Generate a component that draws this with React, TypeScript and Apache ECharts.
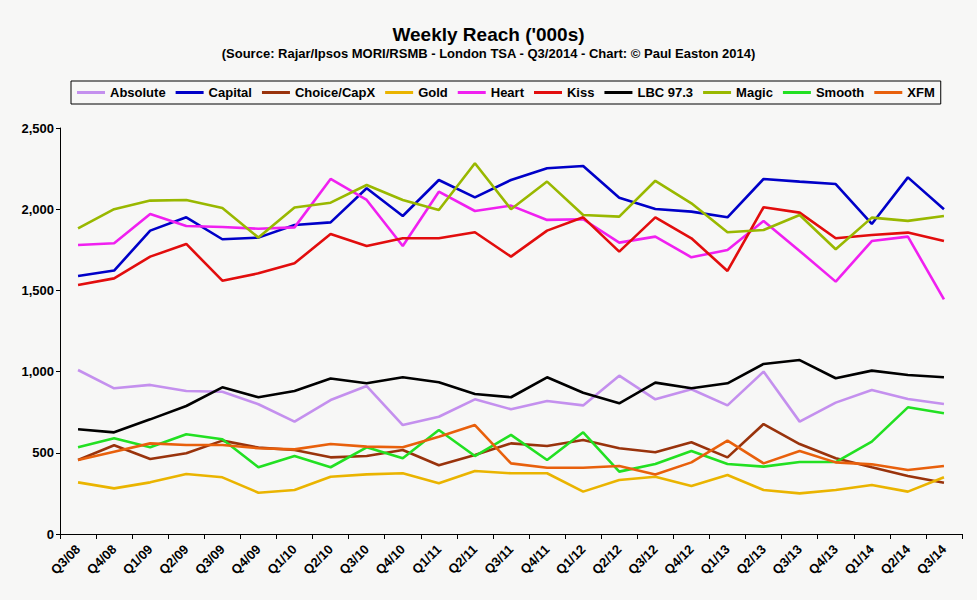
import React, { useEffect, useRef } from 'react';
import * as echarts from 'echarts';

const quarters = [
  'Q3/08', 'Q4/08', 'Q1/09', 'Q2/09', 'Q3/09', 'Q4/09', 'Q1/10', 'Q2/10', 'Q3/10',
  'Q4/10', 'Q1/11', 'Q2/11', 'Q3/11', 'Q4/11', 'Q1/12', 'Q2/12', 'Q3/12', 'Q4/12',
  'Q1/13', 'Q2/13', 'Q3/13', 'Q4/13', 'Q1/14', 'Q2/14', 'Q3/14',
];

const absolute = [1010, 897, 918, 881, 876, 799, 692, 825, 911, 671, 722, 829, 768, 819, 792, 975, 829, 891, 792, 1000, 692, 809, 887, 831, 800];
const capital = [1589, 1622, 1868, 1950, 1815, 1825, 1903, 1919, 2129, 1958, 2180, 2073, 2180, 2252, 2266, 2071, 2001, 1985, 1950, 2186, 2170, 2155, 1909, 2196, 2000];
const choice = [456, 546, 462, 497, 575, 532, 517, 472, 480, 517, 423, 486, 558, 542, 579, 528, 503, 565, 472, 677, 554, 466, 411, 357, 316];
const gold = [318, 281, 318, 369, 349, 254, 271, 353, 367, 374, 312, 388, 374, 374, 261, 333, 353, 296, 363, 271, 250, 271, 302, 261, 349];
const heart = [1780, 1790, 1971, 1897, 1890, 1880, 1888, 2186, 2057, 1773, 2108, 1989, 2022, 1934, 1938, 1794, 1831, 1704, 1749, 1928, 1743, 1554, 1804, 1831, 1445];
const kiss = [1533, 1574, 1708, 1786, 1560, 1605, 1667, 1847, 1773, 1821, 1821, 1858, 1708, 1868, 1950, 1739, 1950, 1821, 1620, 2012, 1979, 1821, 1841, 1856, 1804];
const lbc = [645, 626, 706, 788, 903, 842, 881, 957, 928, 965, 934, 862, 842, 965, 870, 805, 932, 897, 928, 1047, 1071, 959, 1006, 979, 965];
const magic = [1882, 2000, 2053, 2057, 2007, 1825, 2010, 2040, 2149, 2057, 1995, 2283, 2000, 2170, 1964, 1954, 2175, 2036, 1858, 1872, 1964, 1753, 1948, 1928, 1958];
const smooth = [534, 589, 534, 614, 583, 411, 480, 411, 534, 466, 640, 480, 610, 456, 626, 384, 431, 511, 431, 415, 443, 443, 569, 780, 743];
const xfm = [456, 507, 558, 548, 548, 528, 521, 554, 538, 534, 599, 671, 435, 408, 408, 419, 367, 441, 575, 435, 511, 441, 429, 394, 419];

const stations = [
  { name: 'Absolute', data: absolute, color: '#c490ee' },
  { name: 'Capital', data: capital, color: '#0000c8' },
  { name: 'Choice/CapX', data: choice, color: '#99330c' },
  { name: 'Gold', data: gold, color: '#eab400' },
  { name: 'Heart', data: heart, color: '#f020f0' },
  { name: 'Kiss', data: kiss, color: '#e20d0d' },
  { name: 'LBC 97.3', data: lbc, color: '#000000' },
  { name: 'Magic', data: magic, color: '#99b800' },
  { name: 'Smooth', data: smooth, color: '#22e022' },
  { name: 'XFM', data: xfm, color: '#e8600c' },
];

const FONT = "'Liberation Sans', Arial, sans-serif";

export default function App() {
  const chartRef = useRef<HTMLDivElement>(null);

  useEffect(() => {
    if (!chartRef.current) return;
    const chart = echarts.init(chartRef.current, undefined, { renderer: 'svg' });

    chart.setOption({
      animation: false,
      backgroundColor: '#f7f7f6',
      textStyle: { fontFamily: FONT },
      title: {
        text: "Weekly Reach ('000s)",
        subtext: '(Source: Rajar/Ipsos MORI/RSMB - London TSA - Q3/2014 - Chart: © Paul Easton 2014)',
        left: 'center',
        top: 20,
        itemGap: 3,
        textStyle: { fontFamily: FONT, fontSize: 19, fontWeight: 'bold', color: '#000' },
        subtextStyle: { fontFamily: FONT, fontSize: 13, fontWeight: 'bold', color: '#000' },
      },
      legend: {
        left: 71,
        top: 81,
        padding: [5, 6],
        itemGap: 10,
        itemWidth: 28,
        itemHeight: 3,
        icon: 'rect',
        borderColor: '#000',
        borderWidth: 1,
        textStyle: { fontFamily: FONT, fontSize: 13, fontWeight: 'bold', color: '#000' },
        data: stations.map((s) => s.name),
      },
      grid: {
        left: 60,
        right: 15,
        top: 128,
        bottom: 66,
        containLabel: false,
        outerBoundsMode: 'none',
      },
      xAxis: {
        type: 'category',
        boundaryGap: true,
        data: quarters,
        axisLine: { lineStyle: { color: '#000', width: 1 } },
        axisTick: { show: true, length: 5, interval: 0, lineStyle: { color: '#000' } },
        axisLabel: {
          interval: 0,
          rotate: 45,
          margin: 13,
          fontFamily: FONT,
          fontSize: 13,
          fontWeight: 'bold',
          color: '#000',
        },
        splitLine: { show: false },
      },
      yAxis: {
        type: 'value',
        min: 0,
        max: 2500,
        interval: 500,
        axisLine: { show: true, lineStyle: { color: '#000', width: 1 } },
        axisTick: { show: true, length: 4, lineStyle: { color: '#000' } },
        axisLabel: {
          margin: 6,
          fontFamily: FONT,
          fontSize: 13,
          fontWeight: 'bold',
          color: '#000',
          formatter: (v: number) => v.toLocaleString('en-US'),
        },
        splitLine: { show: false },
      },
      series: stations.map((s) => ({
        name: s.name,
        type: 'line',
        data: s.data,
        symbol: 'none',
        color: s.color,
        lineStyle: { color: s.color, width: 2.6 },
      })),
    });

    return () => {
      chart.dispose();
    };
  }, []);

  return (
    <div
      ref={chartRef}
      style={{ position: 'fixed', left: 0, top: 0, width: 977, height: 600 }}
    />
  );
}
